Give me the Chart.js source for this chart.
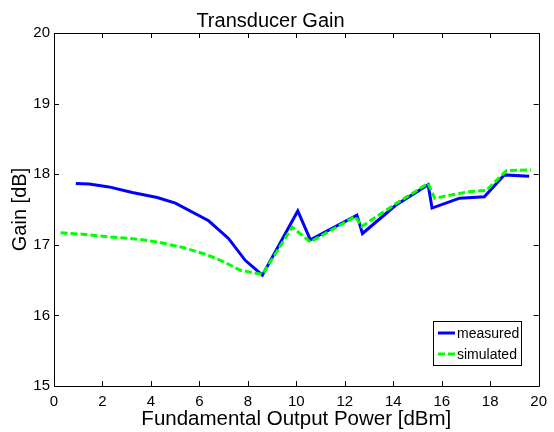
<!DOCTYPE html>
<html>
<head>
<meta charset="utf-8">
<script src="https://cdn.jsdelivr.net/npm/chart.js@4.4.0/dist/chart.umd.min.js"></script>
<style>
  html,body{margin:0;padding:0;background:#fff;}
  canvas{display:block;}
</style>
</head>
<body>
<canvas id="gainChart" width="554" height="432"></canvas>
<script>
// data
const measuredX = [0.9, 1.45, 2.27, 3.23, 4.26, 5.01, 6.38, 7.2, 7.89, 8.6, 10.06, 10.58, 12.5, 12.73, 14.1, 15.44, 15.6, 16.74, 17.76, 18.58, 19.61];
const measuredY = [17.87, 17.86, 17.82, 17.74, 17.67, 17.59, 17.34, 17.09, 16.78, 16.57, 17.48, 17.07, 17.42, 17.16, 17.56, 17.85, 17.52, 17.66, 17.68, 17.99, 17.97];
const simulatedX = [0.27, 1.18, 2.34, 3.44, 4.26, 5.35, 6.31, 7.0, 7.68, 8.6, 9.83, 10.58, 12.43, 12.7, 14.1, 15.44, 15.71, 17.08, 17.84, 18.67, 19.68];
const simulatedY = [17.17, 17.15, 17.11, 17.08, 17.04, 16.96, 16.86, 16.76, 16.64, 16.58, 17.25, 17.04, 17.40, 17.26, 17.58, 17.87, 17.66, 17.75, 17.77, 18.05, 18.06];
const seriesNames = ["measured", "simulated"];
const xTicks = [0, 2, 4, 6, 8, 10, 12, 14, 16, 18, 20];
const yTicks = [15, 16, 17, 18, 19, 20];

const FONT = "'Liberation Sans', Arial, Helvetica, sans-serif";

const toPoints = (xs, ys) => xs.map((x, i) => ({x: x, y: ys[i]}));

// box, inward ticks and legend in the matlab style
const matlabFrame = {
  id: 'matlabFrame',
  afterDatasetsDraw(chart) {
    const c = chart.ctx, a = chart.chartArea;
    const xs = chart.scales.x, ys = chart.scales.y;
    const tl = 5;
    c.save();
    c.strokeStyle = '#000';
    c.lineWidth = 1;
    c.beginPath();
    c.rect(Math.round(a.left) + 0.5, Math.round(a.top) + 0.5, Math.round(a.right - a.left), Math.round(a.bottom - a.top));
    xTicks.forEach(v => {
      const px = Math.round(xs.getPixelForValue(v)) + 0.5;
      c.moveTo(px, a.bottom); c.lineTo(px, a.bottom - tl);
      c.moveTo(px, a.top); c.lineTo(px, a.top + tl);
    });
    yTicks.forEach(v => {
      const py = Math.round(ys.getPixelForValue(v)) + 0.5;
      c.moveTo(a.left, py); c.lineTo(a.left + tl, py);
      c.moveTo(a.right, py); c.lineTo(a.right - tl, py);
    });
    c.stroke();

    // legend
    const lx = 433, ly = 321, lw = 88, lh = 44;
    c.fillStyle = '#fff';
    c.fillRect(lx, ly, lw, lh);
    c.strokeRect(lx + 0.5, ly + 0.5, lw, lh);
    c.font = '14px ' + FONT;
    c.textBaseline = 'middle';
    c.textAlign = 'left';
    chart.data.datasets.forEach((ds, i) => {
      const y = ly + 12 + i * 21;
      c.strokeStyle = ds.borderColor;
      c.lineWidth = ds.borderWidth;
      c.setLineDash(ds.borderDash || []);
      c.beginPath();
      c.moveTo(lx + 5, y); c.lineTo(lx + 22, y);
      c.stroke();
      c.setLineDash([]);
      c.fillStyle = '#000';
      c.fillText(ds.label, lx + 24, y + 1);
    });
    c.restore();
  }
};

new Chart(document.getElementById('gainChart'), {
  type: 'line',
  data: {
    datasets: [
      {label: seriesNames[0], data: toPoints(measuredX, measuredY), borderColor: '#0000ff', borderWidth: 3, pointRadius: 0, fill: false, tension: 0, order: 1},
      {label: seriesNames[1], data: toPoints(simulatedX, simulatedY), borderColor: '#00ff00', borderWidth: 3, borderDash: [7, 3], pointRadius: 0, fill: false, tension: 0, order: 0}
    ]
  },
  options: {
    responsive: false,
    animation: false,
    layout: {padding: {left: 0, right: 13, top: 0, bottom: 0}},
    plugins: {
      legend: {display: false},
      tooltip: {enabled: false},
      title: {display: true, text: 'Transducer Gain', color: '#000', font: {family: FONT, size: 20, weight: 'normal'}, padding: {top: 9, bottom: 0}}
    },
    scales: {
      x: {
        type: 'linear', min: 0, max: 20,
        afterFit: s => { s.height = 46; },
        afterBuildTicks: s => { s.ticks = xTicks.map(v => ({value: v})); },
        grid: {display: false, drawTicks: false},
        border: {display: false},
        ticks: {color: '#000', padding: 7, maxRotation: 0, font: {family: FONT, size: 15}},
        title: {display: true, text: 'Fundamental Output Power [dBm]', color: '#000', font: {family: FONT, size: 20.5}, padding: {top: 0, bottom: 0}}
      },
      y: {
        type: 'linear', min: 15, max: 20,
        afterFit: s => { s.width = 54; },
        afterBuildTicks: s => { s.ticks = yTicks.map(v => ({value: v})); },
        grid: {display: false, drawTicks: false},
        border: {display: false},
        ticks: {color: '#000', padding: 4, font: {family: FONT, size: 15}},
        title: {display: true, text: 'Gain [dB]', color: '#000', font: {family: FONT, size: 20}, padding: {top: 8, bottom: 0}}
      }
    }
  },
  plugins: [matlabFrame]
});
</script>
</body>
</html>
